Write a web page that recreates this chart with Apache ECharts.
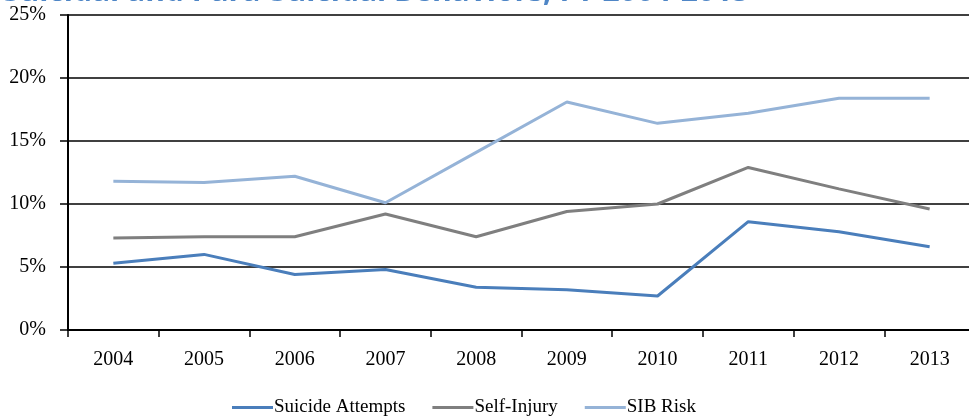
<!DOCTYPE html>
<html>
<head>
<meta charset="utf-8">
<script src="https://cdn.jsdelivr.net/npm/echarts@6/dist/echarts.min.js"></script>
<style>
  html, body { margin: 0; padding: 0; background: #fff; overflow: hidden; }
  #chart { width: 976px; height: 416px; }
</style>
</head>
<body>
<div id="chart"></div>
<script>
var years = ['2004', '2005', '2006', '2007', '2008', '2009', '2010', '2011', '2012', '2013'];
var suicideAttempts = [5.3, 6.0, 4.4, 4.8, 3.4, 3.2, 2.7, 8.6, 7.8, 6.6];
var selfInjury = [7.3, 7.4, 7.4, 9.2, 7.4, 9.4, 10.0, 12.9, 11.2, 9.6];
var sibRisk = [11.8, 11.7, 12.2, 10.1, 14.1, 18.1, 16.4, 17.2, 18.4, 18.4];

var serif = 'Liberation Serif';
var myChart = echarts.init(document.getElementById('chart'));
var option = {
    animation: false,
    graphic: {
        type: 'text',
        left: 3,
        top: -23,
        style: {
            text: 'Suicidal and Para-Suicidal Behaviors, FY 2004-2013',
            fontFamily: 'Open Sans',
            fontWeight: 'bold',
            fontSize: 30,
            fill: '#4f86c6'
        }
    },
    grid: {
        left: 68,
        top: 15,
        right: 1,
        height: 315
    },
    legend: {
        top: 398,
        left: 232,
        padding: 0,
        itemWidth: 41,
        itemHeight: 3,
        itemGap: 27,
        icon: 'rect',
        textStyle: { fontFamily: serif, fontSize: 19, color: '#000', padding: [0, 0, 0, -4] },
        data: ['Suicide Attempts', 'Self-Injury', 'SIB Risk']
    },
    xAxis: {
        type: 'category',
        data: years,
        boundaryGap: true,
        axisLine: { lineStyle: { color: '#000', width: 2 } },
        axisTick: { show: true, length: 7, lineStyle: { color: '#000', width: 1.5 } },
        axisLabel: { fontFamily: serif, fontSize: 20, color: '#000', margin: 20 }
    },
    yAxis: {
        type: 'value',
        min: 0,
        max: 25,
        interval: 5,
        axisLine: { show: true, lineStyle: { color: '#000', width: 2 } },
        axisTick: { show: true, length: 8, lineStyle: { color: '#000', width: 1.5 } },
        splitLine: { lineStyle: { color: '#000', width: 1.5 } },
        axisLabel: { fontFamily: serif, fontSize: 20, color: '#000', margin: 22, formatter: '{value}%' }
    },
    series: [
        {
            name: 'Suicide Attempts',
            type: 'line',
            data: suicideAttempts,
            symbol: 'none',
            itemStyle: { color: '#4a7ebb' },
            lineStyle: { width: 3, color: '#4a7ebb' }
        },
        {
            name: 'Self-Injury',
            type: 'line',
            data: selfInjury,
            symbol: 'none',
            itemStyle: { color: '#7f7f7f' },
            lineStyle: { width: 3, color: '#7f7f7f' }
        },
        {
            name: 'SIB Risk',
            type: 'line',
            data: sibRisk,
            symbol: 'none',
            itemStyle: { color: '#95b3d7' },
            lineStyle: { width: 3, color: '#95b3d7' }
        }
    ]
};
myChart.setOption(option);
</script>
</body>
</html>
